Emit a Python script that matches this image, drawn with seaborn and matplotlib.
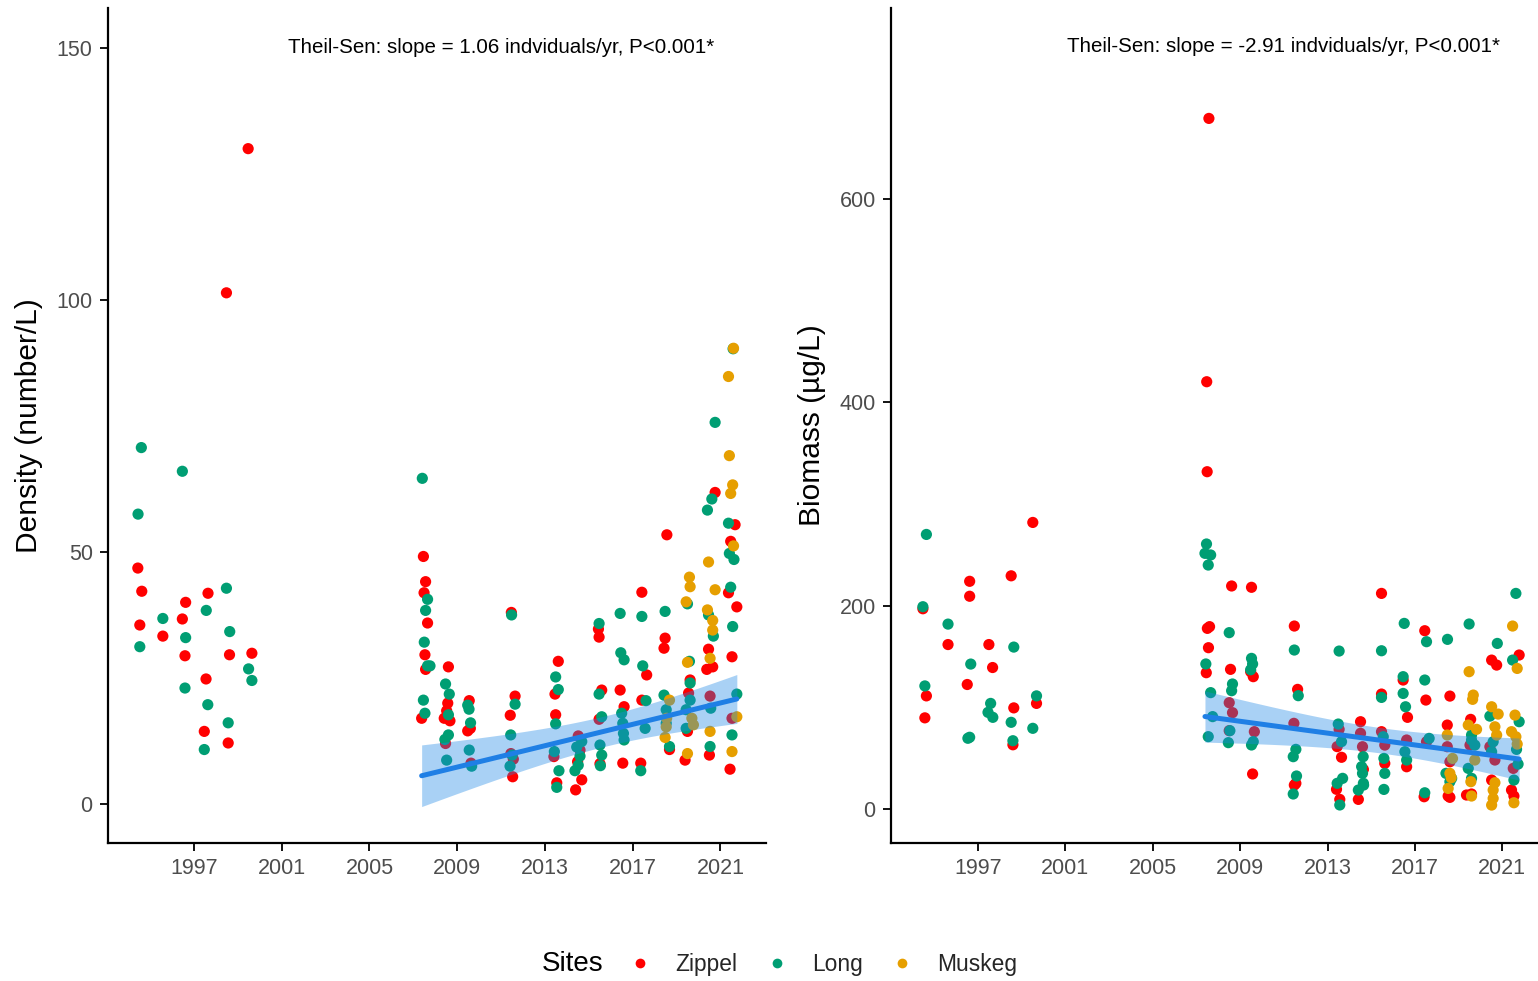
import numpy as np
import pandas as pd
import matplotlib
matplotlib.use("Agg")
import matplotlib.pyplot as plt
import seaborn as sns
from matplotlib.lines import Line2D

# ---------------------------------------------------------------- data
SITES = ["Zippel", "Long", "Muskeg"]
SITE_COLORS = ["#FF0000", "#009E73", "#E69F00"]
YEAR_TICKS = [1997, 2001, 2005, 2009, 2013, 2017, 2021]
DENSITY_TICKS = [0, 50, 100, 150]
BIOMASS_TICKS = [0, 200, 400, 600]
TREND_START = 2007.0

# Theil-Sen slopes (units per year) and fitted value at the first sample of the trend period
DENSITY_SLOPE = 1.06
BIOMASS_SLOPE = -2.91
DENSITY_TREND_START_VALUE = 5.6
BIOMASS_TREND_START_VALUE = 91.0

# (decimal year, density in number/L)
DENSITY_ZIPPEL = [
    (1994.44, 46.8), (1994.62, 42.2), (1994.53, 35.5), (1995.58, 33.3), (1996.62, 40.0),
    (1996.47, 36.7), (1996.59, 29.4), (1997.64, 41.8), (1997.55, 24.8), (1997.47, 14.4),
    (1998.48, 101.4), (1998.62, 29.6), (1998.56, 12.1), (1999.47, 130.0), (1999.64, 29.9),
    (2007.46, 49.1), (2007.56, 44.1), (2007.49, 41.9), (2007.65, 35.9), (2007.53, 29.6),
    (2007.56, 26.7), (2007.38, 17.0),
    (2008.60, 27.2), (2008.57, 20.0), (2008.52, 18.5), (2008.41, 17.0), (2008.67, 16.5), (2008.47, 12.0),
    (2009.55, 20.5), (2009.48, 14.5), (2009.60, 15.0), (2009.63, 8.1),
    (2011.47, 38.0), (2011.64, 21.4), (2011.42, 17.6), (2011.45, 10.0), (2011.56, 8.9), (2011.53, 5.4),
    (2013.61, 28.3), (2013.46, 21.8), (2013.49, 17.7), (2013.41, 9.4), (2013.54, 4.2),
    (2014.52, 13.5), (2014.60, 10.7), (2014.49, 8.4), (2014.68, 4.8), (2014.40, 2.8),
    (2015.44, 34.7), (2015.47, 33.1), (2015.59, 22.6), (2015.47, 16.8), (2015.51, 8.0),
    (2016.43, 22.6), (2016.61, 19.3), (2016.55, 8.1),
    (2017.42, 42.0), (2017.64, 25.6), (2017.42, 20.6), (2017.37, 8.1),
    (2018.56, 53.4), (2018.48, 32.9), (2018.43, 30.9), (2018.68, 10.8),
    (2019.62, 24.6), (2019.55, 22.0), (2019.50, 14.4), (2019.39, 8.7),
    (2020.76, 61.8), (2020.46, 30.7), (2020.38, 26.7), (2020.65, 27.2), (2020.53, 21.4), (2020.50, 9.7),
    (2021.67, 55.4), (2021.47, 52.1), (2021.37, 41.9), (2021.75, 39.1), (2021.53, 29.2),
    (2021.53, 17.0), (2021.44, 6.9),
]
DENSITY_LONG = [
    (1994.60, 70.7), (1994.45, 57.5), (1994.53, 31.2), (1995.58, 36.8), (1996.47, 66.0),
    (1996.62, 33.0), (1996.59, 23.0), (1997.56, 38.4), (1997.63, 19.7), (1997.47, 10.8),
    (1998.48, 42.8), (1998.63, 34.2), (1998.56, 16.1), (1999.49, 26.8), (1999.64, 24.5),
    (2007.41, 64.6), (2007.65, 40.6), (2007.56, 38.4), (2007.50, 32.1), (2007.65, 27.4),
    (2007.76, 27.4), (2007.46, 20.6), (2007.53, 18.0),
    (2008.47, 23.8), (2008.64, 21.8), (2008.60, 17.7), (2008.60, 13.7), (2008.44, 12.8), (2008.52, 8.7),
    (2009.48, 19.6), (2009.54, 18.8), (2009.61, 16.1), (2009.55, 10.7), (2009.66, 7.5),
    (2011.48, 37.5), (2011.64, 19.8), (2011.44, 13.7), (2011.51, 9.7), (2011.41, 7.5),
    (2013.49, 25.2), (2013.61, 22.7), (2013.49, 15.9), (2013.43, 10.4), (2013.64, 6.6), (2013.54, 3.3),
    (2014.68, 12.4), (2014.45, 11.3), (2014.60, 9.5), (2014.52, 7.7), (2014.37, 6.6),
    (2015.47, 35.8), (2015.47, 21.8), (2015.59, 17.3), (2015.51, 11.7), (2015.59, 9.7), (2015.53, 7.6),
    (2016.43, 37.8), (2016.46, 30.0), (2016.61, 28.6), (2016.50, 18.0), (2016.55, 16.0),
    (2016.58, 14.0), (2016.61, 12.7),
    (2017.42, 37.2), (2017.46, 27.4), (2017.61, 20.5), (2017.57, 15.0), (2017.37, 6.6),
    (2018.48, 38.2), (2018.43, 21.6), (2018.53, 18.7), (2018.53, 16.0), (2018.68, 11.4),
    (2019.50, 39.7), (2019.59, 28.3), (2019.62, 24.0), (2019.62, 20.6), (2019.44, 18.7), (2019.44, 15.0),
    (2020.76, 75.7), (2020.61, 60.5), (2020.41, 58.3), (2020.46, 37.5), (2020.68, 33.3),
    (2020.56, 19.0), (2020.53, 11.4),
    (2021.58, 90.3), (2021.37, 55.7), (2021.41, 49.7), (2021.62, 48.5), (2021.47, 43.0),
    (2021.56, 35.2), (2021.75, 21.8), (2021.53, 13.7),
]
DENSITY_MUSKEG = [
    (2018.68, 20.6), (2018.55, 17.0), (2018.53, 15.3), (2018.48, 13.2),
    (2019.59, 45.0), (2019.62, 43.1), (2019.44, 40.1), (2019.50, 28.1), (2019.70, 17.0),
    (2019.77, 15.7), (2019.50, 10.0),
    (2020.46, 48.0), (2020.76, 42.5), (2020.41, 38.5), (2020.65, 36.4), (2020.65, 34.5),
    (2020.53, 28.9), (2020.53, 14.4),
    (2021.60, 90.4), (2021.37, 84.8), (2021.41, 69.1), (2021.56, 63.3), (2021.47, 61.6),
    (2021.60, 51.2), (2021.75, 17.3), (2021.53, 10.4),
]

# (decimal year, biomass in ug/L)
BIOMASS_ZIPPEL = [
    (1994.48, 197.0), (1994.64, 111.3), (1994.57, 89.7), (1995.63, 161.8), (1996.62, 224.0),
    (1996.62, 209.3), (1996.51, 122.5), (1997.50, 161.8), (1997.67, 139.2), (1998.52, 229.4),
    (1998.64, 99.5), (1998.60, 63.2), (1999.51, 281.9), (1999.68, 103.9),
    (2007.57, 679.3), (2007.47, 420.3), (2007.49, 331.8), (2007.50, 177.7), (2007.60, 179.4),
    (2007.55, 158.7), (2007.45, 134.1),
    (2008.61, 219.4), (2008.56, 137.4), (2008.50, 104.6), (2008.65, 94.8), (2008.50, 77.1),
    (2009.52, 218.1), (2009.48, 135.1), (2009.60, 130.2), (2009.65, 76.1), (2009.57, 34.5),
    (2011.48, 180.0), (2011.63, 117.7), (2011.46, 84.3), (2011.55, 25.3), (2011.48, 23.6),
    (2013.53, 78.4), (2013.44, 61.4), (2013.64, 50.9), (2013.41, 19.4), (2013.56, 9.5),
    (2014.51, 85.9), (2014.51, 74.5), (2014.60, 61.3), (2014.64, 39.0), (2014.41, 9.5),
    (2015.47, 212.1), (2015.47, 113.1), (2015.47, 76.1), (2015.62, 62.9), (2015.62, 44.9),
    (2016.46, 126.9), (2016.66, 90.2), (2016.62, 67.9), (2016.62, 41.6),
    (2017.45, 175.4), (2017.50, 107.2), (2017.53, 66.2), (2017.42, 12.1),
    (2018.60, 111.1), (2018.48, 82.6), (2018.48, 61.3), (2018.60, 46.5), (2018.52, 12.8), (2018.60, 11.5),
    (2019.55, 88.2), (2019.52, 62.9), (2019.36, 13.8), (2019.59, 14.8),
    (2020.51, 146.5), (2020.74, 141.6), (2020.43, 61.3), (2020.66, 48.2), (2020.51, 28.5),
    (2021.77, 151.5), (2021.50, 40.0), (2021.42, 18.7), (2021.53, 12.8),
]
BIOMASS_LONG = [
    (1994.64, 270.1), (1994.48, 199.0), (1994.57, 121.1), (1995.63, 181.9), (1996.67, 142.6),
    (1996.54, 69.6), (1996.62, 70.6), (1997.58, 103.9), (1997.46, 95.1), (1997.68, 90.2),
    (1998.64, 159.3), (1998.52, 85.3), (1998.60, 67.2), (1999.68, 111.3), (1999.51, 79.4),
    (2007.46, 260.7), (2007.39, 251.5), (2007.65, 249.9), (2007.54, 240.0), (2007.43, 142.7),
    (2007.65, 114.5), (2007.74, 90.9), (2007.54, 71.2),
    (2008.50, 173.5), (2008.65, 123.0), (2008.61, 116.4), (2008.53, 77.1), (2008.46, 65.3),
    (2009.52, 148.2), (2009.57, 142.7), (2009.48, 137.0), (2009.60, 66.3), (2009.52, 63.0),
    (2011.48, 156.4), (2011.66, 111.5), (2011.55, 58.7), (2011.43, 51.5), (2011.58, 32.5), (2011.43, 14.8),
    (2013.53, 155.4), (2013.49, 83.6), (2013.64, 66.3), (2013.69, 30.2), (2013.44, 25.3), (2013.56, 4.0),
    (2014.63, 51.5), (2014.56, 41.7), (2014.60, 35.1), (2014.64, 25.3), (2014.41, 18.7), (2014.65, 23.6),
    (2015.47, 155.7), (2015.47, 109.8), (2015.55, 71.1), (2015.58, 49.8), (2015.62, 35.1), (2015.58, 19.3),
    (2016.51, 182.6), (2016.46, 130.2), (2016.46, 113.7), (2016.57, 100.6), (2016.54, 56.4), (2016.62, 48.2),
    (2017.53, 164.6), (2017.45, 126.9), (2017.65, 69.5), (2017.45, 16.0),
    (2018.49, 166.9), (2018.42, 35.1), (2018.68, 30.2), (2018.60, 26.9),
    (2019.48, 182.0), (2019.59, 72.8), (2019.59, 67.9), (2019.74, 62.9), (2019.44, 40.0), (2019.59, 30.2),
    (2020.77, 162.9), (2020.43, 91.4), (2020.58, 66.2), (2020.51, 56.4),
    (2021.62, 212.1), (2021.47, 146.5), (2021.77, 85.9), (2021.65, 58.7), (2021.72, 44.2), (2021.53, 28.5),
]
BIOMASS_MUSKEG = [
    (2018.48, 72.8), (2018.72, 49.8), (2018.60, 35.1), (2018.52, 20.3), (2018.66, 30.8),
    (2019.48, 135.1), (2019.67, 112.1), (2019.64, 107.9), (2019.44, 82.6), (2019.82, 78.4),
    (2019.74, 48.2), (2019.56, 26.9), (2019.59, 12.8),
    (2020.51, 100.6), (2020.81, 93.4), (2020.66, 80.9), (2020.74, 72.8), (2020.66, 25.9),
    (2020.58, 18.7), (2020.58, 10.5), (2020.51, 3.9),
    (2021.47, 180.0), (2021.68, 138.3), (2021.58, 92.4), (2021.42, 76.1), (2021.62, 71.1),
    (2021.68, 63.9), (2021.53, 6.2),
]


def to_frame(series, value_name):
    parts = []
    for site, pairs in zip(SITES, series):
        arr = np.asarray(pairs, dtype=float)
        parts.append(pd.DataFrame({"Year": arr[:, 0], value_name: arr[:, 1], "Site": site}))
    return pd.concat(parts, ignore_index=True)


density = to_frame([DENSITY_ZIPPEL, DENSITY_LONG, DENSITY_MUSKEG], "Density")
biomass = to_frame([BIOMASS_ZIPPEL, BIOMASS_LONG, BIOMASS_MUSKEG], "Biomass")


def trend(df, col, slope, start_value):
    """Straight trend over the recent sampling period with a 95% band
    built from the scatter of the observations around it."""
    sub = df[df["Year"] >= TREND_START]
    x = sub["Year"].to_numpy()
    y = sub[col].to_numpy()
    x0 = x.min()
    grid = np.linspace(x0, x.max(), 100)
    fit = start_value + slope * (grid - x0)
    resid = y - (start_value + slope * (x - x0))
    n = len(x)
    s = np.sqrt(np.sum(resid ** 2) / (n - 2))
    se = s * np.sqrt(1.0 / n + (grid - x.mean()) ** 2 / np.sum((x - x.mean()) ** 2))
    return grid, fit, fit - 1.97 * se, fit + 1.97 * se


# ---------------------------------------------------------------- style
sns.set_theme(style="ticks")
plt.rcParams["font.family"] = ["Liberation Sans", "DejaVu Sans"]
TICK_GREY = "#4D4D4D"

fig = plt.figure(figsize=(15.38, 9.81), dpi=100)
W, H = 1538.0, 981.0
ax_d = fig.add_axes([108 / W, 1 - 843 / H, 658 / W, 835 / H])
ax_b = fig.add_axes([891 / W, 1 - 843 / H, 657 / W, 835 / H])

panels = [
    (ax_d, density, "Density", "Density (number/L)", DENSITY_TICKS, (-7.74, 157.9),
     (1993.08, 2023.08), "Theil-Sen: slope = 1.06 indviduals/yr, P<0.001*", 150,
     DENSITY_SLOPE, DENSITY_TREND_START_VALUE),
    (ax_b, biomass, "Biomass", "Biomass (\u00b5g/L)", BIOMASS_TICKS, (-33.4, 787.9),
     (1993.02, 2023.09), "Theil-Sen: slope = -2.91 indviduals/yr, P<0.001*", 750,
     BIOMASS_SLOPE, BIOMASS_TREND_START_VALUE),
]

for ax, df, col, ylabel, yticks, ylim, xlim, note, note_y, slope, start_value in panels:
    sns.scatterplot(data=df, x="Year", y=col, hue="Site", hue_order=SITES,
                    palette=SITE_COLORS, s=65, linewidth=0, alpha=1,
                    legend=False, ax=ax, zorder=2)
    grid, fit, lo, hi = trend(df, col, slope, start_value)
    ax.fill_between(grid, lo, hi, color="#1E88E5", alpha=0.38, linewidth=0, zorder=3)
    sns.lineplot(x=grid, y=fit, ax=ax, color="#1F7FE5", linewidth=3.6, zorder=4)

    ax.set_xlim(*xlim)
    ax.set_ylim(*ylim)
    ax.set_xticks(YEAR_TICKS)
    ax.set_yticks(yticks)
    ax.set_xlabel("")
    ax.set_ylabel(ylabel, fontsize=21.5, color="black", labelpad=10)
    ax.tick_params(axis="both", labelsize=15.5, labelcolor=TICK_GREY, color="black",
                   length=6, width=1.3, pad=5)
    for side in ("top", "right"):
        ax.spines[side].set_visible(False)
    for side in ("left", "bottom"):
        ax.spines[side].set_color("black")
        ax.spines[side].set_linewidth(1.6)
    ax.text(2011, note_y, note, ha="center", va="center", fontsize=14.8, color="black")

# legend along the bottom with the title on its left
handles = [Line2D([], [], linestyle="none", marker="o", markersize=7,
                  markerfacecolor=c, markeredgewidth=0) for c in SITE_COLORS]
fig.legend(handles, SITES, loc="center", bbox_to_anchor=(823 / W, 1 - 964 / H), ncol=3,
           frameon=False, fontsize=16.4, handlelength=1.0, handletextpad=1.03,
           columnspacing=1.25, borderaxespad=0, borderpad=0)
fig.text(542 / W, 1 - 964 / H, "Sites", fontsize=20, ha="left", va="center", color="black")

fig.savefig("out.png", dpi=100, facecolor="white")
